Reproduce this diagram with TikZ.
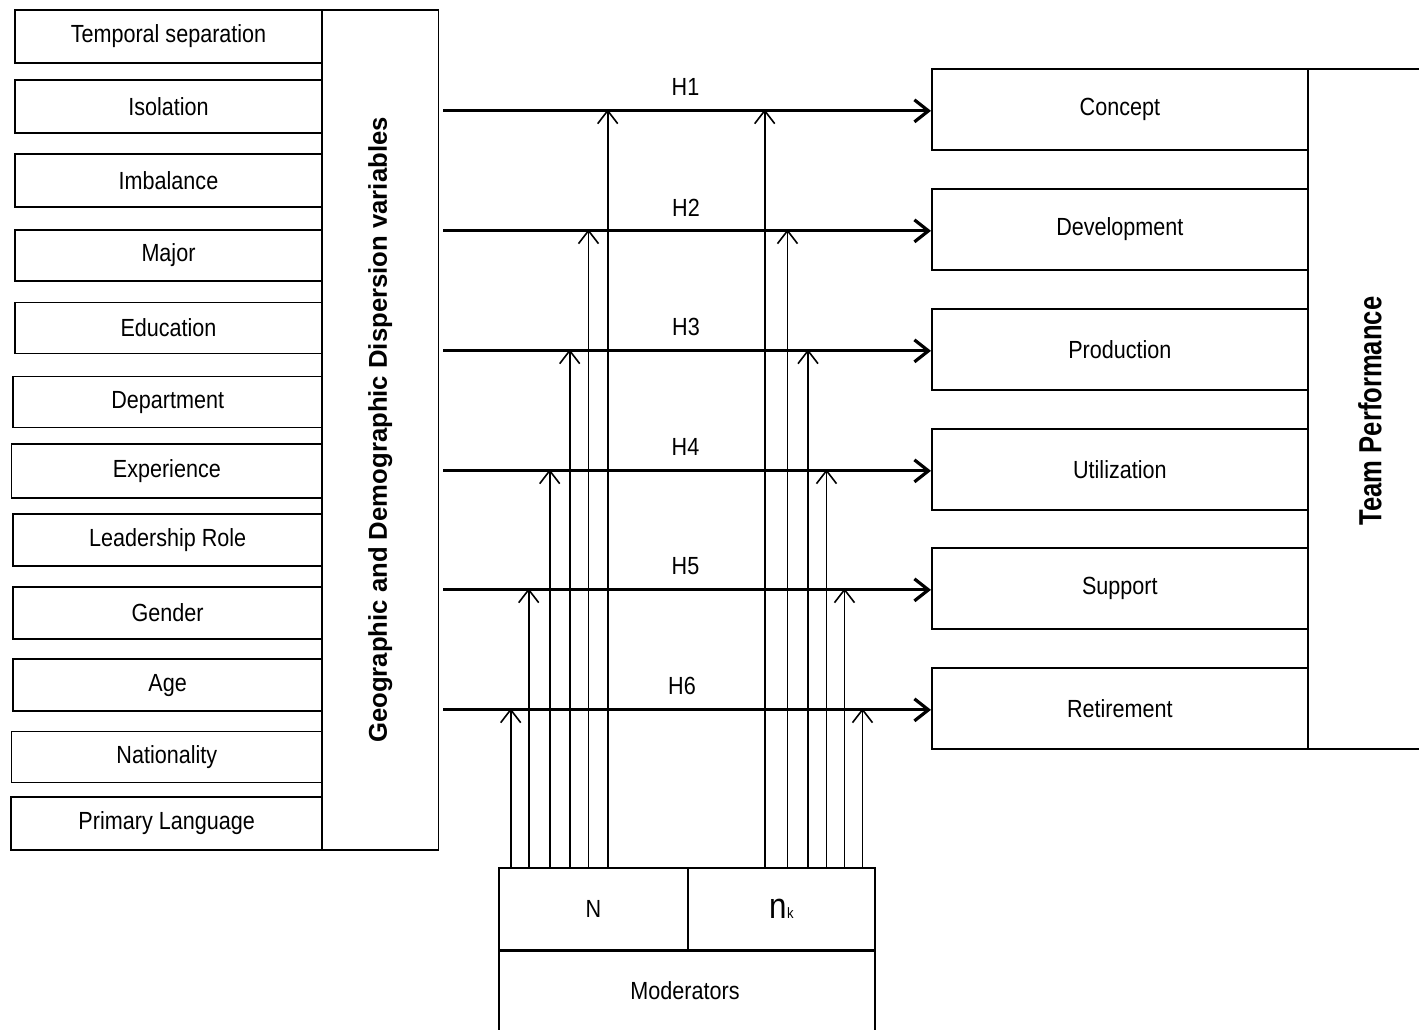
\documentclass[tikz,border=0pt]{standalone}
\usepackage{fontspec}
\setmainfont{Liberation Sans}[FakeStretch=0.87]
\newfontfamily\geofont{Liberation Sans}
\newfontfamily\tpfont{Liberation Sans}[FakeStretch=0.8]
\usetikzlibrary{arrows.meta,calc}
\begin{document}
\begin{tikzpicture}[x=1pt,y=-1pt,
  box/.style={draw, line width=1.7pt, inner sep=0pt, anchor=north west,
    font=\fontsize{24.8}{28}\selectfont},
  hlabel/.style={font=\fontsize{24.8}{28}\selectfont, inner sep=0pt},
  harrow/.style={line width=3.2pt, -{Straight Barb[length=14pt,width=22pt]}},
  varrow/.style={line width=1.6pt, -{Straight Barb[length=13pt,width=20pt]}}]
\useasboundingbox (0,0) rectangle (1419,1030);
% left boxes
\foreach \n/\xl/\yt/\yb/\t in {
  l1/14/9/62/{Temporal separation},
  l2/14/79/132/{Isolation},
  l3/14/153/206/{Imbalance},
  l4/14/229/280/{Major},
  l5/14/301.7/352.7/{Education},
  l6/12.3/375.7/426.7/{Department},
  l7/10.7/443.3/497/{Experience},
  l8/12.3/513.3/565/{Leadership Role},
  l9/12.3/586/638.3/{Gender},
  l10/12.3/658.3/710.3/{Age},
  l11/10.7/730.7/781.7/{Nationality},
  l12/10.3/796/849.3/{Primary Language}}{
  \pgfmathsetmacro{\w}{321.3-\xl}
  \pgfmathsetmacro{\h}{\yb-\yt}
  \node[box, minimum width=\w pt, minimum height=\h pt] (\n) at (\xl,\yt) {\t};
}
\node[box, minimum width=116.4pt, minimum height=840.3pt] (geo) at (321.3,9) {};
\node[rotate=90, font=\geofont\bfseries\fontsize{25.7}{30}\selectfont, inner sep=0pt]
  (geot) at (geo.center) {Geographic and Demographic Dispersion variables};
% right boxes
\foreach \n/\yt/\t in {r1/68/Concept, r2/188/Development, r3/308/Production,
  r4/428/Utilization, r5/547/Support, r6/667/Retirement}{
  \node[box, minimum width=376pt, minimum height=81pt] (\n) at (931,\yt) {\t};
}
\node[box, minimum width=126pt, minimum height=680pt] (tp) at (1307,68) {};
\node[rotate=90, font=\tpfont\bfseries\fontsize{32}{36}\selectfont, inner sep=0pt]
  (tpt) at (1370,411) {Team Performance};
% moderators
\node[box, minimum width=188.7pt, minimum height=82pt] (nb) at (498.3,867) {N};
\node[box, minimum width=187pt, minimum height=82pt] (kb) at (687,867)
  {{\fontsize{36}{40}\selectfont n}\kern0.5pt{\fontsize{15}{16}\selectfont k}};
\node[box, minimum width=375.7pt, minimum height=95pt, anchor=north west] (mb) at (498.3,950) {};
\node[font=\fontsize{24.8}{28}\selectfont, inner sep=0pt] (mt) at (685,991) {Moderators};
\draw[line width=3pt] (mb.north west) -- (mb.north east);
% horizontal arrows with labels
\foreach \i/\hx in {1/685.5,2/686,3/686,4/685.5,5/685.5,6/682}{
  \draw[harrow] ($(geo.east |- r\i.west)+(4,1.5)$) -- ($(r\i.west)+(0,1.5)$);
  \node[hlabel] (h\i) at ($(\hx,0 |- r\i.west)+(0,-22)$) {H\i};
}
% vertical arrows
\foreach \i/\xl/\xr in {1/607.7/764.7, 2/588.5/787.5, 3/569.7/808,
  4/549.7/826.5, 5/528.7/844.5, 6/510.7/862.5}{
  \coordinate (sl\i) at (\xl,867);
  \coordinate (sr\i) at (\xr,867);
  \draw[varrow] (sl\i) -- (sl\i |- r\i.west);
  \draw[varrow] (sr\i) -- (sr\i |- r\i.west);
}
\end{tikzpicture}
\end{document}
